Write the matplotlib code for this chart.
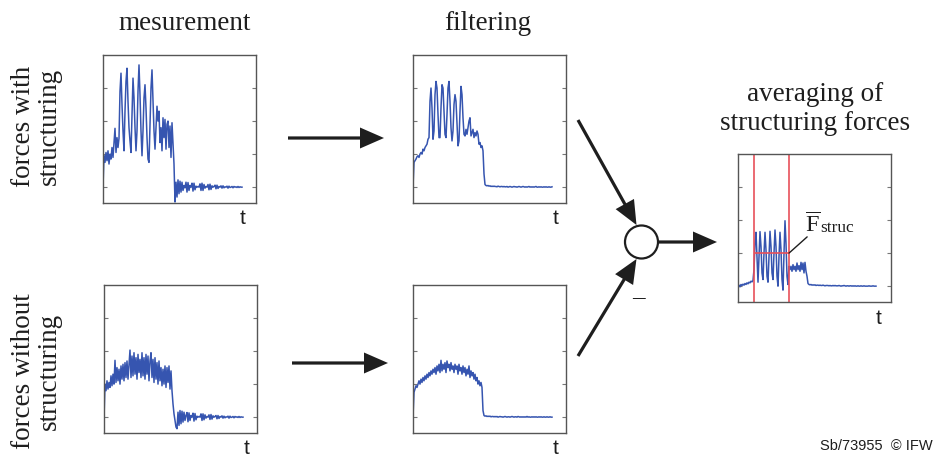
import matplotlib.pyplot as plt
from matplotlib.patches import Circle

# force signals, one sample per time step (values in tick units)
meas_with = [
    0.0, 0.95, 0.75, 1.05, 0.8, 1.1, 0.7, 1.0, 0.85, 1.2,
    0.9, 1.35, 1.78, 1.05, 1.5, 1.2, 1.48, 2.9, 3.45, 2.5,
    1.7, 1.1, 2.3, 3.2, 3.6, 2.6, 1.8, 1.4, 1.05, 2.2,
    3.3, 2.7, 1.8, 1.1, 1.7, 2.9, 3.7, 2.8, 1.7, 0.95,
    1.7, 2.7, 3.1, 2.4, 1.5, 0.85, 0.75, 1.9, 3.0, 3.55,
    2.6, 1.7, 1.15, 1.8, 2.45, 2.0, 2.3, 1.35, 1.8, 1.1,
    2.1, 1.5, 2.05, 1.15, 1.9, 2.0, 1.2, 1.85, 0.9, 1.95,
    1.3, 0.7, -0.45, 0.15, -0.3, 0.22, -0.2, 0.18, -0.15, 0.15,
    -0.1, 0.05, -0.02, 0.15, -0.15, 0.14, -0.1, 0.05, 0.0, 0.12,
    -0.12, 0.12, -0.08, 0.03, 0.0, 0.02, 0.0, 0.1, -0.1, 0.12,
    -0.1, 0.08, -0.03, 0.02, 0.0, 0.08, -0.08, 0.09, -0.07, 0.04,
    0.0, 0.02, 0.06, -0.05, 0.06, -0.04, 0.02, 0.0, 0.04, -0.03,
    0.04, -0.02, 0.01, 0.0, 0.03, -0.03, 0.03, -0.01, 0.0, 0.02,
    -0.02, 0.02, 0.0, 0.01, -0.01, 0.02, -0.01, 0.01, 0.0, 0.0,
]
filt_with = [
    0.0, 0.75, 0.8, 0.85, 0.92, 0.95, 0.9, 1.0, 1.05, 1.0,
    1.15, 1.1, 1.2, 1.25, 1.3, 1.45, 1.5, 2.6, 3.0, 2.4,
    1.45, 1.7, 2.8, 3.2, 3.0, 2.2, 1.5, 1.5, 2.4, 3.1,
    3.0, 2.3, 1.6, 1.5, 2.2, 3.0, 3.2, 2.6, 1.8, 1.4,
    1.7, 2.5, 2.8, 2.6, 1.9, 1.25, 1.4, 2.3, 3.05, 2.8,
    2.1, 1.6, 1.55, 1.75, 1.6, 1.8, 2.0, 2.1, 1.55, 1.65,
    1.75, 1.5, 1.65, 1.55, 1.7, 1.6, 1.3, 1.35, 1.2, 1.25,
    1.1, 0.4, 0.08, 0.05, 0.04, 0.05, 0.03, 0.04, 0.02, 0.03,
    0.02, 0.03, 0.02, 0.02, 0.01, 0.03, 0.02, 0.01, 0.02, 0.02,
    0.01, 0.02, 0.01, 0.01, 0.02, 0.0, 0.01, 0.02, 0.01, 0.0,
    0.01, 0.02, 0.01, 0.01, 0.0, 0.01, 0.02, 0.01, 0.0, 0.01,
    0.02, 0.01, 0.0, 0.01, 0.0, 0.01, 0.02, 0.0, 0.01, 0.0,
    0.01, 0.0, 0.01, 0.02, 0.0, 0.0, 0.01, 0.0, 0.01, 0.0,
    0.0, 0.01, 0.0, 0.01, 0.0, 0.0, 0.01, 0.0, 0.0, 0.01,
]
meas_without = [
    -0.05, 1.0, 0.8, 1.1, 0.85, 1.05, 0.9, 1.25, 0.95, 1.3,
    1.0, 1.72, 1.05, 1.5, 1.1, 1.45, 1.0, 1.55, 1.15, 1.6,
    1.1, 1.65, 1.2, 1.7, 1.15, 1.6, 2.03, 1.2, 1.85, 1.25,
    1.95, 1.3, 1.8, 1.15, 1.9, 1.35, 1.75, 1.2, 1.95, 1.25,
    1.8, 1.15, 1.9, 1.3, 1.85, 1.1, 1.7, 1.95, 1.2, 1.75,
    1.05, 1.8, 1.15, 1.65, 1.0, 1.7, 1.1, 1.5, 0.95, 1.45,
    1.0, 1.55, 0.9, 1.5, 1.05, 1.55, 0.85, 1.4, 0.8, 0.4,
    0.1, -0.1, -0.3, -0.35, 0.15, -0.25, 0.2, -0.2, 0.18, -0.15,
    0.15, -0.1, 0.05, 0.14, -0.14, 0.13, -0.1, 0.05, 0.0, 0.12,
    -0.12, 0.11, -0.08, 0.03, 0.0, 0.02, 0.0, 0.1, -0.1, 0.1,
    -0.08, 0.07, -0.03, 0.02, 0.0, 0.07, -0.07, 0.08, -0.06, 0.04,
    0.0, 0.02, 0.05, -0.05, 0.05, -0.04, 0.02, 0.0, 0.04, -0.03,
    0.03, -0.02, 0.01, 0.0, 0.03, -0.03, 0.03, -0.01, 0.0, 0.02,
    -0.02, 0.02, 0.0, 0.01, -0.01, 0.02, -0.01, 0.01, 0.0, 0.0,
]
filt_without = [
    0.0, 0.75, 0.85, 0.95, 0.9, 1.0, 1.1, 1.0, 1.15, 1.05,
    1.2, 1.1, 1.25, 1.15, 1.3, 1.2, 1.35, 1.25, 1.4, 1.3,
    1.45, 1.35, 1.5, 1.3, 1.55, 1.4, 1.6, 1.35, 1.72, 1.4,
    1.6, 1.45, 1.65, 1.35, 1.7, 1.5, 1.6, 1.4, 1.65, 1.45,
    1.55, 1.35, 1.6, 1.45, 1.55, 1.3, 1.6, 1.4, 1.5, 1.3,
    1.55, 1.35, 1.5, 1.25, 1.45, 1.3, 1.55, 1.2, 1.4, 1.25,
    1.35, 1.15, 1.3, 1.1, 1.2, 1.0, 1.1, 0.95, 1.05, 0.9,
    0.2, 0.05, 0.03, 0.04, 0.02, 0.03, 0.02, 0.03, 0.01, 0.02,
    0.02, 0.01, 0.02, 0.01, 0.02, 0.0, 0.01, 0.02, 0.01, 0.01,
    0.0, 0.01, 0.02, 0.01, 0.0, 0.01, 0.01, 0.0, 0.01, 0.02,
    0.01, 0.0, 0.01, 0.01, 0.0, 0.02, 0.01, 0.0, 0.01, 0.0,
    0.01, 0.0, 0.01, 0.0, 0.02, 0.0, 0.01, 0.0, 0.0, 0.01,
    0.0, 0.01, 0.0, 0.01, 0.0, 0.0, 0.01, 0.0, 0.01, 0.0,
    0.0, 0.01, 0.0, 0.0, 0.01, 0.0, 0.0, 0.01, 0.0, 0.0,
]
struc_diff = [
    0.0, 0.03, -0.02, 0.05, 0.02, 0.06, 0.03, 0.08, 0.05, 0.1,
    0.07, 0.12, 0.1, 0.15, 0.13, 0.17, 0.5, 1.3, 1.63, 0.9,
    0.12, 0.9, 1.65, 1.2, 0.4, 0.2, 1.0, 1.63, 1.1, 0.3,
    0.12, 0.9, 1.66, 1.2, 0.4, 0.2, 1.0, 1.7, 1.2, 0.3,
    0.0, 0.9, 1.63, 1.1, 0.2, -0.12, 1.0, 1.98, 1.3, 0.3,
    0.05, 0.6, 0.5, 0.6, 0.45, 0.65, 0.5, 0.6, 0.45, 0.7,
    0.5, 0.62, 0.45, 0.72, 0.5, 0.7, 0.4, 0.72, 0.45, 0.3,
    0.08, 0.05, 0.04, 0.05, 0.03, 0.04, 0.03, 0.04, 0.02, 0.03,
    0.03, 0.02, 0.03, 0.02, 0.02, 0.03, 0.02, 0.01, 0.02, 0.02,
    0.02, 0.01, 0.02, 0.01, 0.01, 0.02, 0.01, 0.02, 0.01, 0.01,
    0.01, 0.02, 0.01, 0.0, 0.01, 0.01, 0.02, 0.01, 0.0, 0.01,
    0.01, 0.0, 0.01, 0.01, 0.0, 0.01, 0.0, 0.01, 0.0, 0.0,
    0.01, 0.0, 0.0, 0.01, 0.0, 0.0, 0.01, 0.0, 0.0, 0.0,
    0.0, 0.01, 0.0, 0.0, 0.0, 0.01, 0.0, 0.0, 0.0,
]
window = [16, 51]      # averaging window (sample index)
f_struc = 1.0          # mean structuring force

col_titles = ["mesurement", "filtering"]
row_titles = ["forces with\nstructuring", "forces without\nstructuring"]
right_title = "averaging of\nstructuring forces"
credit = "Sb/73955  \u00a9 IFW"

BLUE = "#3655b0"
RED = "#e8505a"
DARK = "#1e1e1e"
SERIF = "Liberation Serif"

plt.rcParams["mathtext.fontset"] = "custom"
plt.rcParams["mathtext.rm"] = SERIF

W, H = 947, 459
fig = plt.figure(figsize=(W / 100, H / 100), dpi=100)


def panel(x0, y0, values):
    # x0, y0: top-left corner of the box in pixels
    ax = fig.add_axes([x0 / W, (H - y0 - 148) / H, 153 / W, 148 / H])
    ax.plot(values, color=BLUE, lw=1.1)
    ax.set_xlim(0, 153)
    ax.set_ylim(-0.48, 4.0)
    ax.set_xticks([])
    ax.set_yticks([0, 1, 2, 3])
    ax.tick_params(axis="y", direction="in", length=3, width=0.8,
                   left=True, right=True, labelleft=False, color="#777777")
    for s in ax.spines.values():
        s.set_color("#555555")
        s.set_linewidth(1.0)
    return ax


panel(103, 55, meas_with)
panel(413, 55, filt_with)
panel(104, 285, meas_without)
panel(413, 285, filt_without)
ax_r = panel(738, 154, struc_diff)

# averaging window and mean value
for xv in window:
    ax_r.axvline(xv, color=RED, lw=1.2)
ax_r.hlines(f_struc, window[0], window[1], color=RED, lw=1.2)
ax_r.annotate("", xy=(window[1], f_struc), xytext=(0.452, 0.44),
              textcoords="axes fraction",
              arrowprops=dict(arrowstyle="-", color=DARK, lw=1.0,
                              shrinkA=0, shrinkB=0))
ax_r.text(0.44, 0.47, r"$\overline{\mathrm{F}}$", transform=ax_r.transAxes,
          fontsize=17.5, ha="left", va="baseline", color=DARK)
ax_r.text(0.535, 0.47, "struc", transform=ax_r.transAxes, family=SERIF,
          fontsize=12.5, ha="left", va="baseline", color=DARK)

# overlay in pixel coordinates for the flow diagram
ov = fig.add_axes([0, 0, 1, 1])
ov.set_xlim(0, W)
ov.set_ylim(H, 0)
ov.axis("off")

ov.text(185, 23, col_titles[0], family=SERIF, fontsize=19.5,
        ha="center", va="center", color=DARK)
ov.text(488, 23, col_titles[1], family=SERIF, fontsize=19.5,
        ha="center", va="center", color=DARK)
ov.text(815, 109, right_title, family=SERIF, fontsize=19.5, ha="center",
        va="center", multialignment="center", linespacing=1.2, color=DARK)
ov.text(36, 126, row_titles[0], family=SERIF, fontsize=19.5, rotation=90,
        ha="center", va="center", multialignment="center", linespacing=1.05,
        color=DARK)
ov.text(36, 371, row_titles[1], family=SERIF, fontsize=19.5, rotation=90,
        ha="center", va="center", multialignment="center", linespacing=1.05,
        color=DARK)

for tx, ty in [(243, 219), (556, 219), (247, 449), (556, 449), (879, 319)]:
    ov.text(tx, ty, "t", family="Liberation Sans", fontsize=15,
            ha="center", va="center", color=DARK)

arrows = [((288, 138), (384, 138)), ((292, 363), (388, 363)),
          ((578, 120), (636.5, 225)), ((578, 356), (636.5, 259)),
          ((658, 242), (717, 242))]
for (xa, ya), (xb, yb) in arrows:
    ov.arrow(xa, ya, xb - xa, yb - ya, width=3.2, head_width=21,
             head_length=24, length_includes_head=True,
             fc=DARK, ec=DARK, lw=0)

ov.add_patch(Circle((641.5, 242), 16.5, fc="white", ec=DARK, lw=1.6,
                    zorder=3))
ov.text(638, 297, "\u2013", family=SERIF, fontsize=18, ha="center",
        va="center", color=DARK)
ov.text(933, 446, credit, family="Liberation Sans", fontsize=10.5,
        ha="right", va="center", color=DARK)

fig.savefig("out.png", dpi=100)
